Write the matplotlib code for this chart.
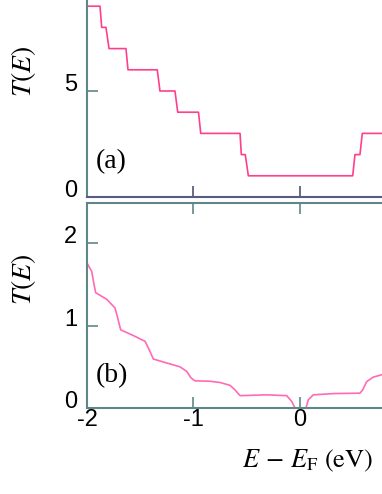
import numpy as np
import matplotlib as mpl
mpl.use('Agg')
from matplotlib import pyplot as plt

mpl.rcParams['font.family'] = 'Liberation Sans'
mpl.rcParams['mathtext.fontset'] = 'stix'
mpl.rcParams['axes.unicode_minus'] = False

# (a) stepwise transmission, corner points
E_a = [-2.0, -1.878, -1.862, -1.822, -1.793, -1.634, -1.615, -1.340, -1.315,
       -1.174, -1.148, -0.953, -0.932, -0.563, -0.551, -0.514, -0.485,
       0.495, 0.516, 0.563, 0.585, 0.77]
T_a = [9, 9, 8, 8, 7, 7, 6, 6, 5, 5, 4, 4, 3, 3, 2, 2, 1, 1, 2, 2, 3, 3]

# (b) smoothed transmission
E_b = [-2.0, -1.956, -1.934, -1.918, -1.815, -1.737, -1.715, -1.684, -1.565,
       -1.455, -1.424, -1.377, -1.252, -1.127, -1.064, -1.023, -0.986, -0.845,
       -0.751, -0.657, -0.610, -0.563, -0.313, -0.125, -0.078, -0.047, 0.0,
       0.056, 0.078, 0.125, 0.313, 0.563, 0.589, 0.626, 0.688, 0.77]
T_b = [1.76, 1.66, 1.50, 1.40, 1.32, 1.215, 1.11, 0.95, 0.88, 0.81, 0.73,
       0.595, 0.547, 0.50, 0.445, 0.365, 0.33, 0.325, 0.31, 0.275, 0.22, 0.15,
       0.16, 0.15, 0.08, 0.0, 0.0, 0.0, 0.10, 0.16, 0.175, 0.18, 0.22, 0.32,
       0.375, 0.405]

xticks = [-2, -1, 0]
W, H = 382, 494

fig = plt.figure(figsize=(W / 100, H / 100), dpi=100)

ax1 = fig.add_axes([87 / W, 1 - 197 / H, 1 - 87 / W, 197 / H])
ax2 = fig.add_axes([87 / W, 1 - 408 / H, 1 - 87 / W, (408 - 203) / H])

teal = '#5f8787'
ax1.plot(E_a, T_a, color='#ff3f8c', lw=1.2)
ax2.plot(E_b, T_b, color='#ff6ab4', lw=1.2)

for ax in (ax1, ax2):
	ax.set_xlim(-2, 0.77)
	ax.set_xticks(xticks)
	for s in ax.spines.values():
		s.set_color(teal)
		s.set_linewidth(1.5)
	ax.spines['right'].set_visible(False)
	ax.tick_params(direction='in', length=8, width=1.2, color=teal,
	               labelsize=17, top=True)

ax1.spines['bottom'].set_color('#5a5a82')
ax1.spines['top'].set_visible(False)
ax1.set_ylim(0, 197 / 21.2)
ax1.set_yticks([0, 5])
ax1.tick_params(axis='x', labelbottom=False, top=False, color='#4a5570')
ax1.tick_params(axis='y', pad=7)
ax1.text(0.03, 0.18, '(a)', transform=ax1.transAxes, fontsize=20,
         family='Liberation Serif', va='center')

ax2.set_ylim(0, 2.49)
ax2.set_yticks([0, 1, 2])
ax2.tick_params(axis='y', pad=7)
ax2.tick_params(axis='x', pad=1)
ax2.text(0.03, 0.16, '(b)', transform=ax2.transAxes, fontsize=20,
         family='Liberation Serif', va='center')

for ax in (ax1, ax2):
	for lab in ax.get_yticklabels():
		lab.set_va('baseline')

# y labels placed in figure pixels so they are not cut at the left edge
fig.text(23 / W, 1 - 71 / H, '$T(E)$', fontsize=20, rotation=90,
         ha='center', va='center')
fig.text(23 / W, 1 - 279 / H, '$T(E)$', fontsize=20, rotation=90,
         ha='center', va='center')

fig.text(308 / W, 1 - 461 / H, r'$E\,-\,E_{\mathrm{F}}\ (\mathrm{eV})$',
         fontsize=19, ha='center', va='center')

fig.savefig('out.png', dpi=100)
